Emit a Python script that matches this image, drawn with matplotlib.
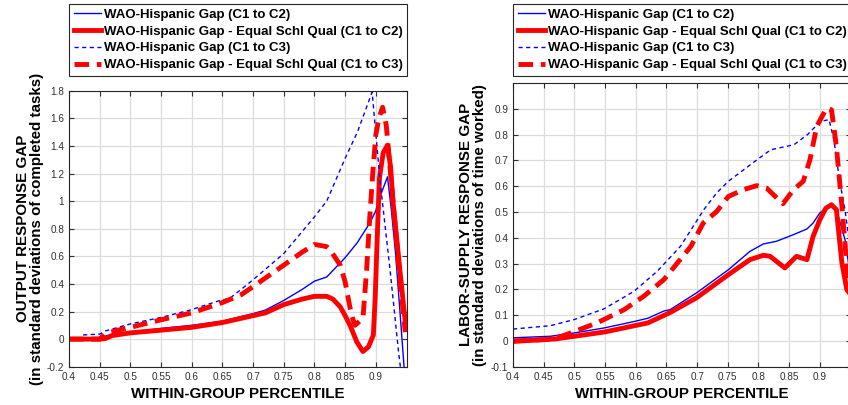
# Recreate the two-panel WAO-Hispanic gap chart
import matplotlib
matplotlib.use('Agg')
import matplotlib.pyplot as plt
import numpy as np

plt.rcParams['font.family'] = ['Liberation Sans', 'DejaVu Sans']

# ---- data: OUTPUT RESPONSE GAP (left panel) ----
out_c2_x = [0.40, 0.45, 0.47, 0.50, 0.55, 0.60, 0.65, 0.70, 0.72, 0.75, 0.78, 0.80, 0.82,
            0.85, 0.87, 0.89, 0.90, 0.904, 0.91, 0.919, 0.925, 0.932, 0.939, 0.946]
out_c2_y = [0.005, 0.01, 0.035, 0.05, 0.077, 0.10, 0.13, 0.185, 0.21, 0.28, 0.36, 0.42, 0.45,
            0.59, 0.70, 0.84, 0.93, 0.995, 1.07, 1.176, 0.95, 0.63, 0.22, -0.2]

out_eq_c2_x = [0.40, 0.45, 0.46, 0.47, 0.48, 0.50, 0.55, 0.60, 0.65, 0.70, 0.72, 0.75, 0.78,
               0.80, 0.82, 0.83, 0.842, 0.85, 0.858, 0.869, 0.879, 0.888, 0.896, 0.899, 0.902,
               0.906, 0.912, 0.919, 0.924, 0.928, 0.939, 0.949]
out_eq_c2_y = [0.0, 0.0, 0.005, 0.025, 0.032, 0.045, 0.065, 0.085, 0.12, 0.17, 0.19, 0.25, 0.29,
               0.31, 0.31, 0.29, 0.234, 0.17, 0.10, -0.02, -0.09, -0.056, 0.03, 0.3, 0.7,
               1.17, 1.35, 1.405, 1.25, 0.995, 0.51, 0.08]

out_c3_x = [0.423, 0.45, 0.46, 0.50, 0.55, 0.597, 0.646, 0.662, 0.679, 0.70, 0.75, 0.80, 0.82,
            0.85, 0.87, 0.894, 0.907, 0.923, 0.937, 0.94]
out_c3_y = [0.03, 0.036, 0.06, 0.11, 0.157, 0.21, 0.28, 0.295, 0.355, 0.43, 0.62, 0.886, 1.0,
            1.31, 1.5, 1.79, 1.14, 0.51, -0.09, -0.2]

out_eq_c3_x = [0.40, 0.45, 0.46, 0.48, 0.50, 0.55, 0.60, 0.65, 0.68, 0.70, 0.75, 0.78, 0.80,
               0.82, 0.825, 0.842, 0.85, 0.86, 0.866, 0.879, 0.885, 0.89, 0.895, 0.90, 0.905,
               0.911, 0.917, 0.922, 0.93, 0.94, 0.948]
out_eq_c3_y = [0.0, 0.0, 0.04, 0.065, 0.085, 0.14, 0.19, 0.265, 0.32, 0.38, 0.536, 0.63, 0.686,
               0.67, 0.65, 0.536, 0.415, 0.18, 0.10, 0.15, 0.5, 0.875, 1.2, 1.48, 1.6,
               1.68, 1.55, 1.3, 0.9, 0.4, 0.05]

# ---- data: LABOR-SUPPLY RESPONSE GAP (right panel) ----
lab_c2_x = [0.40, 0.461, 0.50, 0.548, 0.597, 0.62, 0.646, 0.656, 0.699, 0.751, 0.786, 0.808,
            0.829, 0.857, 0.879, 0.889, 0.90, 0.917, 0.927, 0.941, 0.95]
lab_c2_y = [0.012, 0.018, 0.031, 0.05, 0.075, 0.088, 0.116, 0.121, 0.186, 0.276, 0.347, 0.376,
            0.386, 0.412, 0.434, 0.457, 0.496, 0.528, 0.509, 0.393, 0.25]

lab_eq_c2_x = [0.40, 0.45, 0.47, 0.50, 0.55, 0.60, 0.62, 0.656, 0.699, 0.751, 0.786, 0.808,
               0.819, 0.843, 0.862, 0.879, 0.889, 0.90, 0.91, 0.919, 0.927, 0.936, 0.944, 0.95]
lab_eq_c2_y = [-0.002, 0.005, 0.008, 0.018, 0.035, 0.06, 0.07, 0.11, 0.167, 0.257, 0.315, 0.332,
               0.328, 0.283, 0.328, 0.315, 0.405, 0.47, 0.515, 0.528, 0.509, 0.302, 0.199, 0.18]

lab_c3_x = [0.40, 0.461, 0.50, 0.548, 0.597, 0.635, 0.673, 0.711, 0.732, 0.751, 0.798, 0.82,
            0.858, 0.88, 0.901, 0.915, 0.923, 0.932, 0.941, 0.95]
lab_c3_y = [0.046, 0.059, 0.083, 0.124, 0.192, 0.27, 0.367, 0.509, 0.574, 0.619, 0.703, 0.741,
            0.761, 0.80, 0.851, 0.858, 0.78, 0.625, 0.508, 0.35]

lab_eq_c3_x = [0.40, 0.45, 0.47, 0.494, 0.537, 0.581, 0.613, 0.646, 0.69, 0.71, 0.732, 0.751,
               0.775, 0.797, 0.813, 0.83, 0.84, 0.857, 0.873, 0.884, 0.895, 0.911, 0.919,
               0.927, 0.936, 0.944, 0.95]
lab_eq_c3_y = [0.0, 0.005, 0.01, 0.031, 0.07, 0.121, 0.173, 0.238, 0.367, 0.457, 0.502, 0.56,
               0.586, 0.602, 0.593, 0.554, 0.532, 0.586, 0.619, 0.703, 0.832, 0.903, 0.896,
               0.754, 0.522, 0.29, 0.2]

labels = ['WAO-Hispanic Gap (C1 to C2)',
          'WAO-Hispanic Gap - Equal Schl Qual (C1 to C2)',
          'WAO-Hispanic Gap (C1 to C3)',
          'WAO-Hispanic Gap - Equal Schl Qual (C1 to C3)']

xticks = [0.4, 0.45, 0.5, 0.55, 0.6, 0.65, 0.7, 0.75, 0.8, 0.85, 0.9]
xticklabels = ['0.4', '0.45', '0.5', '0.55', '0.6', '0.65', '0.7', '0.75', '0.8', '0.85', '0.9']
out_yticks = [-0.2, 0, 0.2, 0.4, 0.6, 0.8, 1, 1.2, 1.4, 1.6, 1.8]
out_yticklabels = ['-0.2', '0', '0.2', '0.4', '0.6', '0.8', '1', '1.2', '1.4', '1.6', '1.8']
lab_yticks = [-0.1, 0, 0.1, 0.2, 0.3, 0.4, 0.5, 0.6, 0.7, 0.8, 0.9]
lab_yticklabels = ['-0.1', '0', '0.1', '0.2', '0.3', '0.4', '0.5', '0.6', '0.7', '0.8', '0.9']

W, H = 848, 405
fig = plt.figure(figsize=(W / 100, H / 100), dpi=100)

# axes placed in pixel terms (right panel runs slightly off the figure, as in the original)
ax1 = fig.add_axes([69 / W, (H - 366.7) / H, 337.5 / W, 276 / H])
ax2 = fig.add_axes([513 / W, (H - 366.7) / H, 337.5 / W, 283.7 / H])


def draw_panel(ax, c2, eq_c2, c3, eq_c3, ylim, yticks, yticklabels, ylabel, leg_y, ypad):
    l1, = ax.plot(c2[0], c2[1], color='blue', lw=1.0)
    l2, = ax.plot(eq_c2[0], eq_c2[1], color='red', lw=3.5)
    l3, = ax.plot(c3[0], c3[1], color='blue', lw=1.0, dashes=(3, 2.5))
    l4, = ax.plot(eq_c3[0], eq_c3[1], color='red', lw=3.5, dashes=(3.0, 1.6))

    ax.set_xlim(0.4, 0.95)
    ax.set_ylim(*ylim)
    ax.set_xticks(xticks)
    ax.set_xticklabels(xticklabels)
    ax.set_yticks(yticks)
    ax.set_yticklabels(yticklabels)
    ax.grid(True, color='#dcdcdc', lw=0.9)
    ax.set_axisbelow(True)
    ax.tick_params(direction='in', length=3.5, width=0.8, top=True, right=True,
                   labelsize=7.2, colors='#303030', pad=3.5)
    for s in ax.spines.values():
        s.set_color('#262626')
        s.set_linewidth(0.8)

    ax.set_xlabel('WITHIN-GROUP PERCENTILE', fontsize=10.9, fontweight='bold', labelpad=4)
    ax.set_ylabel(ylabel, fontsize=10.9, fontweight='bold', labelpad=ypad, linespacing=1.0)

    leg = ax.legend([l1, l2, l3, l4], labels, loc='lower left',
                    bbox_to_anchor=(0, leg_y, 1, 0.2), mode='expand', borderaxespad=0,
                    fancybox=False, framealpha=1, edgecolor='#262626',
                    prop={'weight': 'bold', 'size': 9.5}, handlelength=2.1,
                    handletextpad=0.22, labelspacing=0.35, borderpad=0.36)
    leg.get_frame().set_linewidth(0.8)


draw_panel(ax1, (out_c2_x, out_c2_y), (out_eq_c2_x, out_eq_c2_y),
           (out_c3_x, out_c3_y), (out_eq_c3_x, out_eq_c3_y),
           (-0.2, 1.8), out_yticks, out_yticklabels,
           'OUTPUT RESPONSE GAP\n(in standard deviations of completed tasks)', 1.053, 2.0)

draw_panel(ax2, (lab_c2_x, lab_c2_y), (lab_eq_c2_x, lab_eq_c2_y),
           (lab_c3_x, lab_c3_y), (lab_eq_c3_x, lab_eq_c3_y),
           (-0.1, 1.0), lab_yticks, lab_yticklabels,
           'LABOR-SUPPLY RESPONSE GAP\n(in standard deviations of time worked)', 1.0247, 2.5)

plt.savefig('out.png', dpi=100)
